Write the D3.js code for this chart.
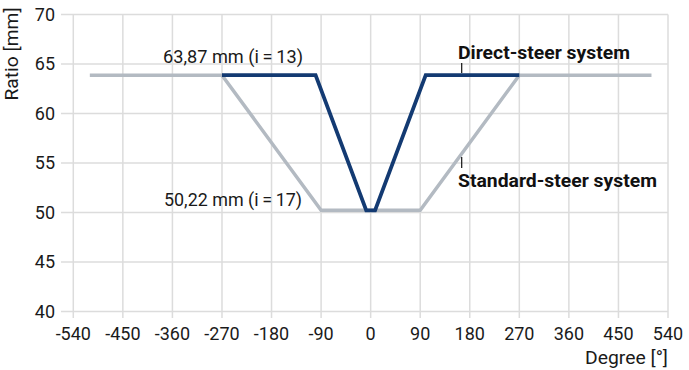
<!DOCTYPE html>
<html><head><meta charset="utf-8">
<script src="https://cdn.jsdelivr.net/npm/d3@7"></script>
<style>body{margin:0;background:#fff;} svg{display:block;} text{font-family:Roboto, "Liberation Sans", sans-serif;}</style>
</head><body><svg id="c" width="689" height="370"></svg>
<script>
const xTicks = [-540,-450,-360,-270,-180,-90,0,90,180,270,360,450,540];
const yTicks = [40,45,50,55,60,65,70];
const standardDeg = [-510,-270,-90,90,270,510];
const standardVal = [63.87,63.87,50.22,50.22,63.87,63.87];
const directDeg = [-270,-100,-8,8,100,270];
const directVal = [63.87,63.87,50.22,50.22,63.87,63.87];
const labels = {hi:"63,87 mm (i\u2009=\u200913)", lo:"50,22 mm (i\u2009=\u200917)", direct:"Direct-steer system", standard:"Standard-steer system"};

const svg = d3.select("#c");
const x = d3.scaleLinear().domain([-540,540]).range([73.3,668]);
const y = d3.scaleLinear().domain([40,70]).range([311.5,14.5]);
const grid = "#dcdcdc";
const fs = 18;

svg.append("g").selectAll("line").data(yTicks).join("line")
  .attr("x1",61).attr("x2",x(540)).attr("y1",d=>y(d)).attr("y2",d=>y(d))
  .attr("stroke",grid).attr("stroke-width",1.5);
svg.append("g").selectAll("line").data(xTicks).join("line")
  .attr("x1",d=>x(d)).attr("x2",d=>x(d)).attr("y1",y(70)).attr("y2",318)
  .attr("stroke",grid).attr("stroke-width",1.5);

svg.append("g").selectAll("text").data(xTicks).join("text")
  .attr("x",d=>x(d)).attr("y",339.5).attr("text-anchor","middle")
  .attr("font-size",fs).attr("fill","#1a1a1a").text(d=>d);
svg.append("g").selectAll("text").data(yTicks).join("text")
  .attr("x",55).attr("y",d=>y(d)+6.3).attr("text-anchor","end")
  .attr("font-size",fs).attr("fill","#1a1a1a").text(d=>d);

svg.append("text").attr("transform","translate(18,54) rotate(-90)")
  .attr("text-anchor","middle").attr("font-size",fs).attr("fill","#1a1a1a")
  .attr("textLength",93).attr("lengthAdjust","spacingAndGlyphs").text("Ratio [mm]");
svg.append("text").attr("x",668).attr("y",364).attr("text-anchor","end")
  .attr("font-size",fs).attr("fill","#1a1a1a")
  .attr("textLength",83).attr("lengthAdjust","spacingAndGlyphs").text("Degree [°]");

const line = d3.line().x(d=>x(d[0])).y(d=>y(d[1]));
svg.append("path").datum(standardDeg.map((d,i)=>[d,standardVal[i]]))
  .attr("d",line).attr("fill","none").attr("stroke","#b3bac2").attr("stroke-width",3.5)
  .attr("stroke-linejoin","miter");
svg.append("path").datum(directDeg.map((d,i)=>[d,directVal[i]]))
  .attr("d",line).attr("fill","none").attr("stroke","#133a72").attr("stroke-width",3.8)
  .attr("stroke-linejoin","miter");

svg.append("text").attr("x",163).attr("y",62.5)
  .attr("font-size",18.5).attr("fill","#1a1a1a")
  .attr("textLength",140).attr("lengthAdjust","spacingAndGlyphs").text(labels.hi);
svg.append("text").attr("x",164).attr("y",205.5)
  .attr("font-size",18.5).attr("fill","#1a1a1a")
  .attr("textLength",138).attr("lengthAdjust","spacingAndGlyphs").text(labels.lo);
svg.append("text").attr("x",458).attr("y",58.5).attr("font-size",18.5).attr("font-weight","bold")
  .attr("fill","#111").attr("textLength",172).attr("lengthAdjust","spacingAndGlyphs").text(labels.direct);
svg.append("text").attr("x",458).attr("y",186.5).attr("font-size",18.5).attr("font-weight","bold")
  .attr("fill","#111").attr("textLength",199).attr("lengthAdjust","spacingAndGlyphs").text(labels.standard);
svg.append("line").attr("x1",461.7).attr("x2",461.7).attr("y1",63).attr("y2",73)
  .attr("stroke","#111").attr("stroke-width",1.2);
svg.append("line").attr("x1",461.7).attr("x2",461.7).attr("y1",157).attr("y2",168)
  .attr("stroke","#111").attr("stroke-width",1.2);
</script></body></html>
